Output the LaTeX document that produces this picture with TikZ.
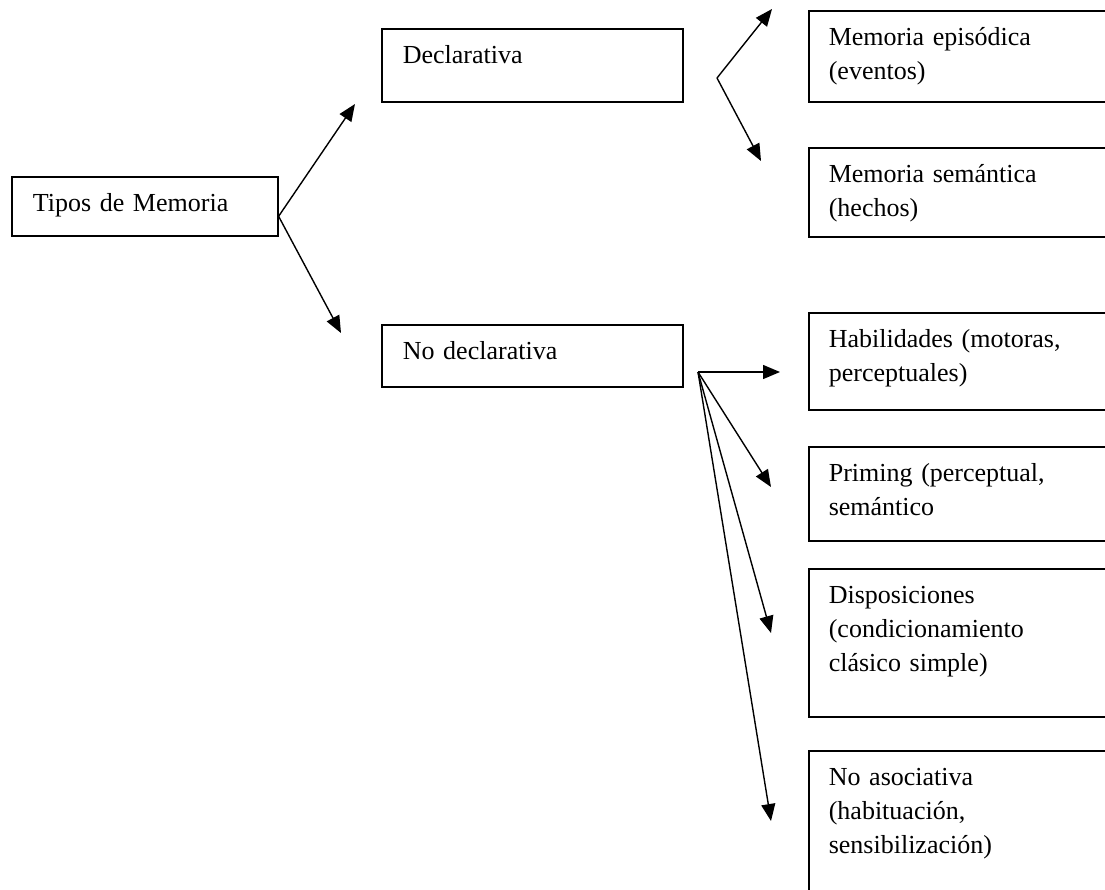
\documentclass[tikz,border=0pt]{standalone}
\usepackage{fontspec}
\setmainfont{Liberation Serif}
\usepackage{tikz}
\usetikzlibrary{arrows.meta,positioning,calc}
\newcommand{\memfont}{\fontsize{26pt}{34pt}\selectfont}
\tikzset{
  >={Triangle[length=17pt,width=14pt]},
  every node/.style={font=\memfont},
  % --- cajas
  caja/.style  = {draw, line width=1.6pt, anchor=north west, align=left,
                  inner xsep=21pt, inner ysep=0pt, text height=35pt},
  raiz/.style  = {caja, text width=224pt},
  medio/.style = {caja, text width=259pt},
  hoja/.style  = {caja, text width=267pt, inner xsep=20pt},
  % --- flechas
  f/.style     = {->, line width=1.4pt},
}

\begin{document}
\begin{tikzpicture}[x=1pt,y=-1pt]
  \path[use as bounding box, clip] (0,0) rectangle (1105,889);
  % primer nivel
  \node[raiz, text depth=24pt]  (tipos)  at (11,176)  {Tipos de Memoria};
  \node[medio, text depth=38pt] (decl)   at (381,28)  {Declarativa};
  \node[medio, text depth=27pt] (nodecl) at (381,324) {No declarativa};
  % hojas
  \node[hoja, text depth=56pt]  (epis) at (808,10)  {Memoria episódica\\(eventos)};
  \node[hoja, text depth=54pt]  (sem)  at (808,147) {Memoria semántica\\(hechos)};
  \node[hoja, text depth=62pt]  (hab)  at (808,312) {Habilidades (motoras,\\perceptuales)};
  \node[hoja, text depth=59pt]  (pri)  at (808,446) {Priming (perceptual,\\semántico};
  \node[hoja, text depth=113pt] (dis)  at (808,568) {Disposiciones\\(condicionamiento\\clásico simple)};
  \node[hoja, text depth=120pt] (noa)  at (808,750) {No asociativa\\(habituación,\\sensibilización)};
  % puntos libres de las flechas
  \coordinate (d-in) at (355,104);
  \coordinate (n-in) at (341,333);
  \coordinate (d-v)  at (717,78);
  \coordinate (epis-in) at (772,9);
  \coordinate (sem-in)  at (761,161);
  \coordinate (n-v)  at (698,372);
  \coordinate (hab-in) at (780,372);
  \coordinate (pri-in) at (771,487);
  \coordinate (dis-in) at (771,633);
  \coordinate (noa-in) at (771,821);
  \draw[f] ([yshift=-10pt]tipos.east) -- (d-in);
  \draw[f] ([yshift=-10pt]tipos.east) -- (n-in);
  \draw[f] (d-v) -- (epis-in); \draw[f] (d-v) -- (sem-in);
  \draw[f] (n-v) -- (hab-in); \draw[f] (n-v) -- (pri-in);
  \draw[f] (n-v) -- (dis-in); \draw[f] (n-v) -- (noa-in);
\end{tikzpicture}
\end{document}
